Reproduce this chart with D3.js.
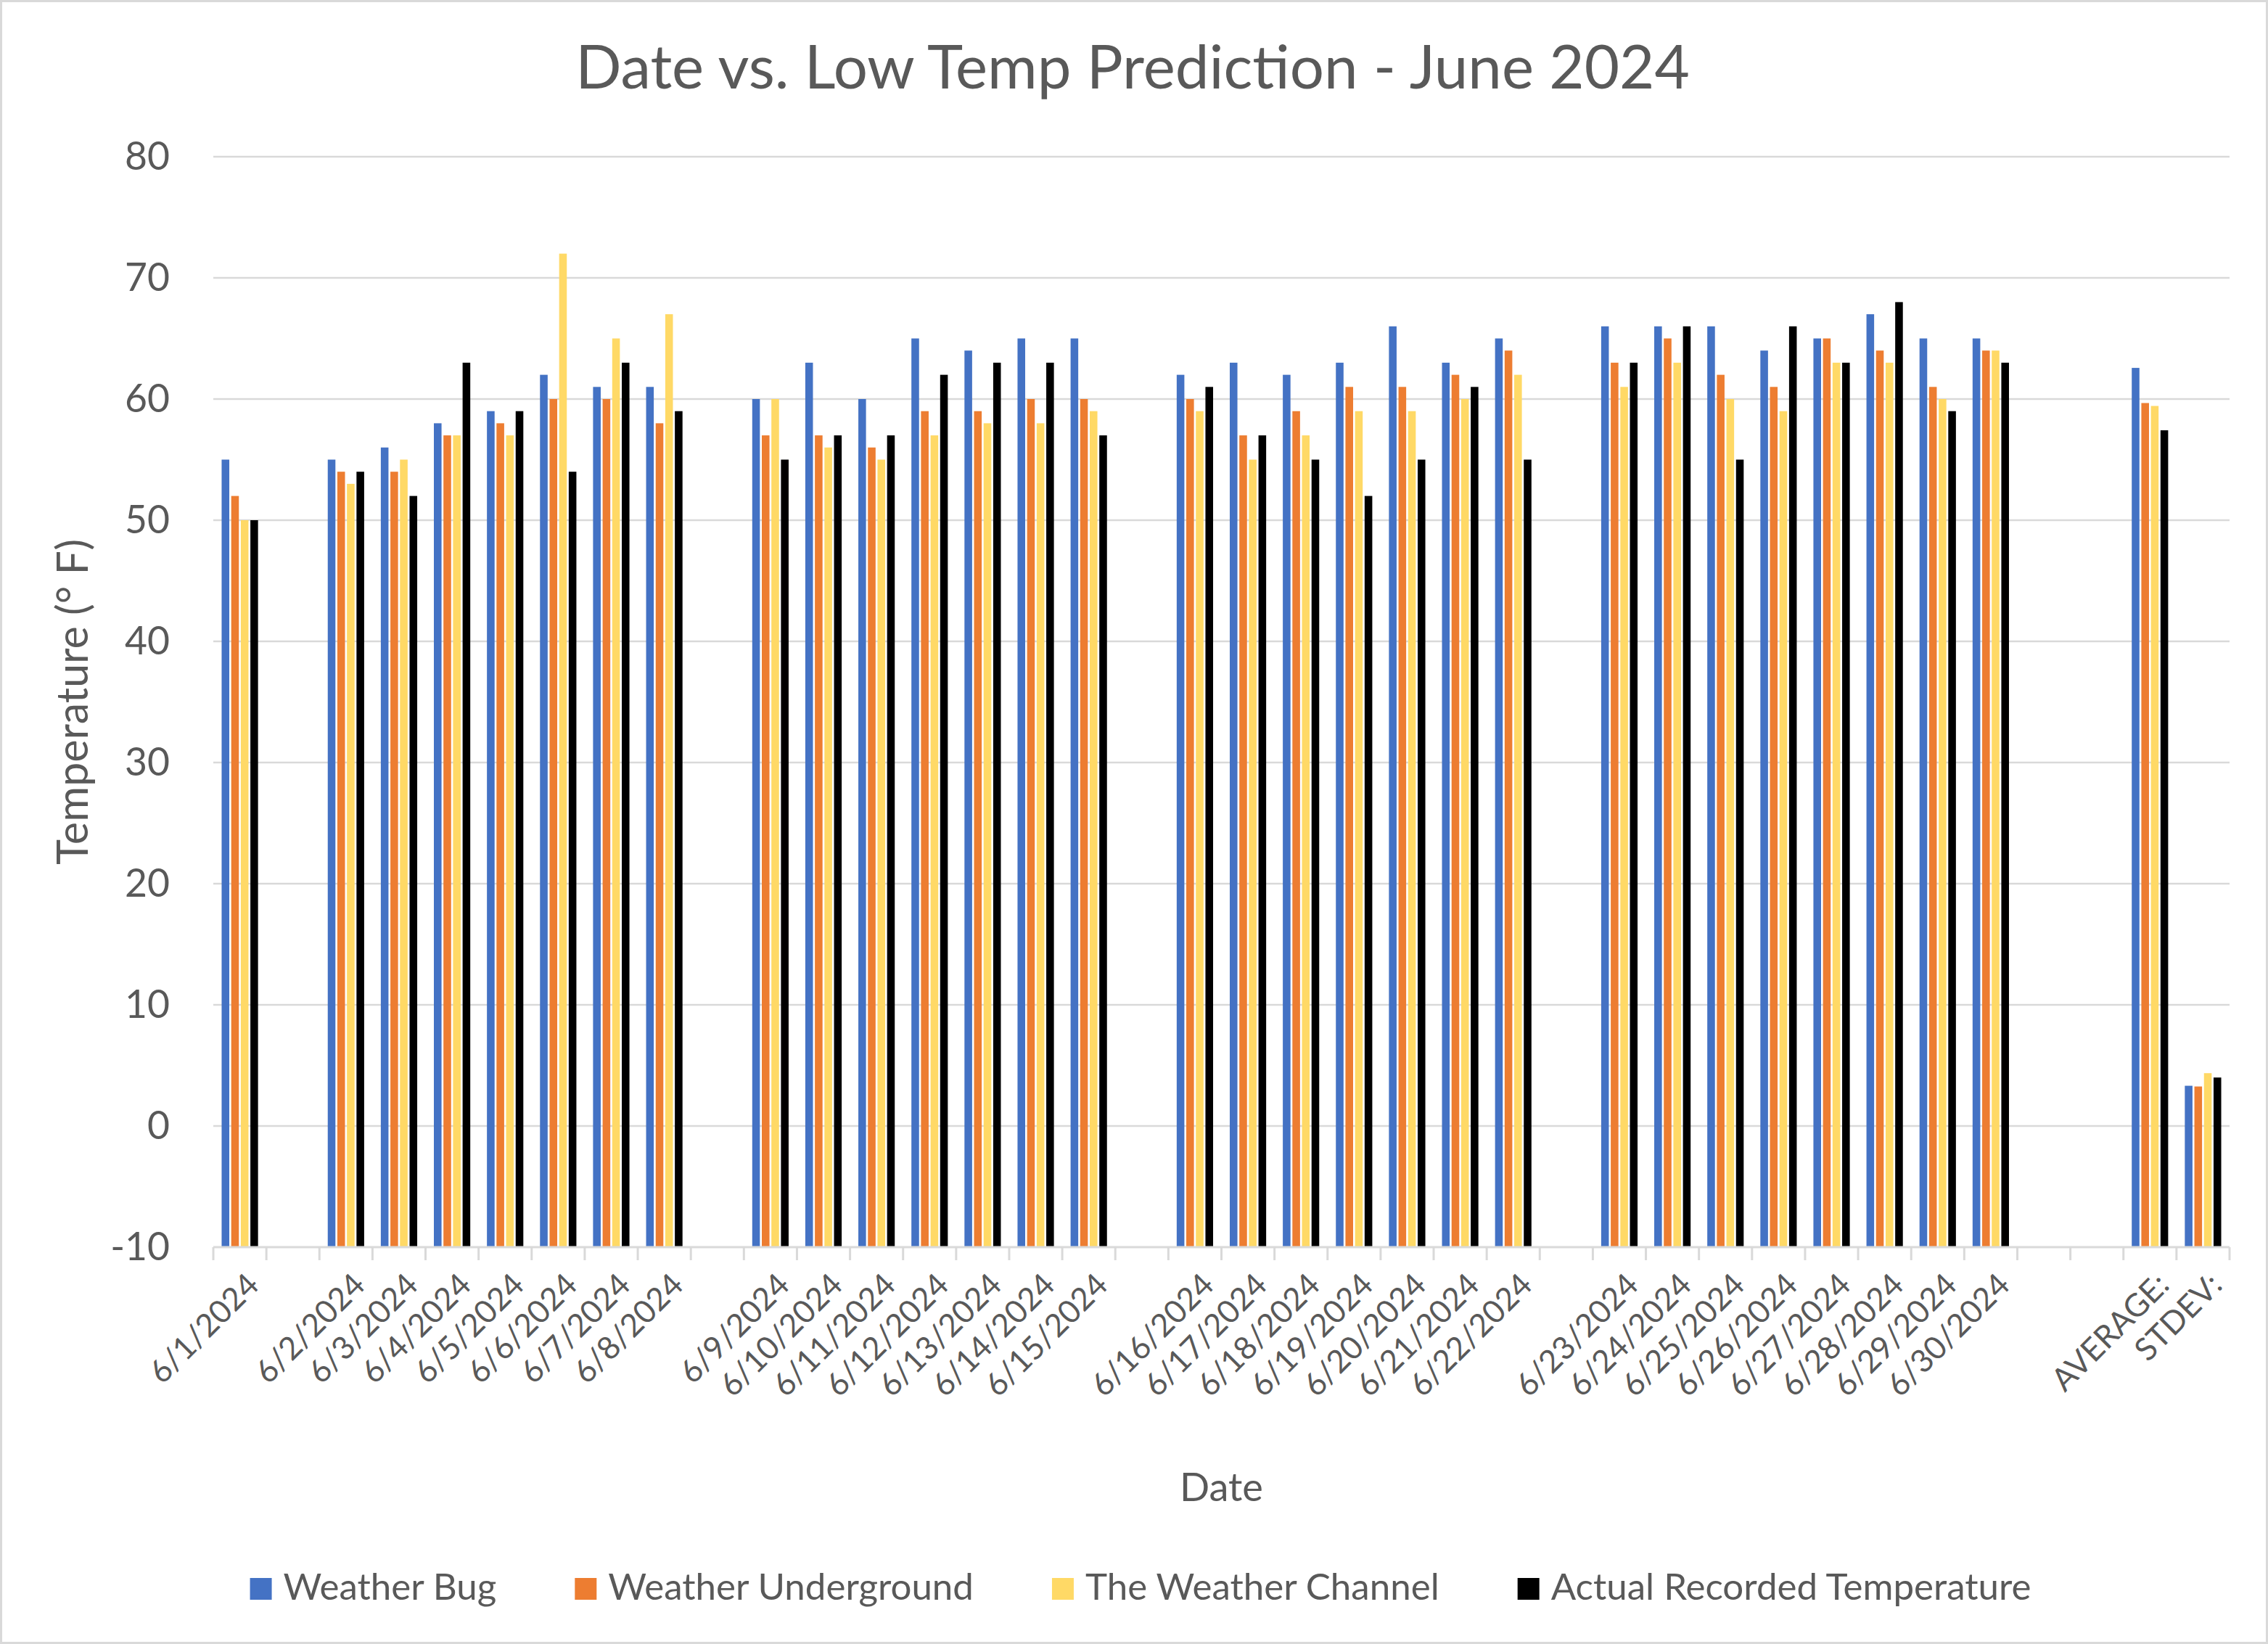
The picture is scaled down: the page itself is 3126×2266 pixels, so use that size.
<!DOCTYPE html>
<html>
<head>
<meta charset="utf-8">
<script src="https://cdn.jsdelivr.net/npm/d3@7/dist/d3.min.js"></script>
<style>
  html, body { margin: 0; padding: 0; background: #fff; }
  svg { display: block; }
</style>
</head>
<body>
<script>
// ---------------- DATA ----------------
const categories = [
  "6/1/2024", "",
  "6/2/2024", "6/3/2024", "6/4/2024", "6/5/2024", "6/6/2024", "6/7/2024", "6/8/2024", "",
  "6/9/2024", "6/10/2024", "6/11/2024", "6/12/2024", "6/13/2024", "6/14/2024", "6/15/2024", "",
  "6/16/2024", "6/17/2024", "6/18/2024", "6/19/2024", "6/20/2024", "6/21/2024", "6/22/2024", "",
  "6/23/2024", "6/24/2024", "6/25/2024", "6/26/2024", "6/27/2024", "6/28/2024", "6/29/2024", "6/30/2024", "", "",
  "AVERAGE:", "STDEV:"
];
const weatherBug = [55, null, 55, 56, 58, 59, 62, 61, 61, null, 60, 63, 60, 65, 64, 65, 65, null,
  62, 63, 62, 63, 66, 63, 65, null, 66, 66, 66, 64, 65, 67, 65, 65, null, null, 62.57, 3.32];
const weatherUnderground = [52, null, 54, 54, 57, 58, 60, 60, 58, null, 57, 57, 56, 59, 59, 60, 60, null,
  60, 57, 59, 61, 61, 62, 64, null, 63, 65, 62, 61, 65, 64, 61, 64, null, null, 59.67, 3.26];
const weatherChannel = [50, null, 53, 55, 57, 57, 72, 65, 67, null, 60, 56, 55, 57, 58, 58, 59, null,
  59, 55, 57, 59, 59, 60, 62, null, 61, 63, 60, 59, 63, 63, 60, 64, null, null, 59.43, 4.36];
const actualRecorded = [50, null, 54, 52, 63, 59, 54, 63, 59, null, 55, 57, 57, 62, 63, 63, 57, null,
  61, 57, 55, 52, 55, 61, 55, null, 63, 66, 55, 66, 63, 68, 59, 63, null, null, 57.42, 4.0];
const seriesNames = ["Weather Bug", "Weather Underground", "The Weather Channel", "Actual Recorded Temperature"];
const yTicks = [-10, 0, 10, 20, 30, 40, 50, 60, 70, 80];
const titleText = "Date vs. Low Temp Prediction - June 2024";
const xTitle = "Date";
const yTitle = "Temperature (° F)";

// ---------------- STYLE / LAYOUT ----------------
const W = 3126, H = 2266;
const colors = ["#4472C4", "#ED7D31", "#FFD966", "#000000"];
const FONT = "Lato, 'Open Sans', sans-serif";
const TEXT = "#595959";
const GRID = "#D9D9D9";
const plot = { left: 294, right: 3073, top: 216, bottom: 1719 };

const seriesData = [weatherBug, weatherUnderground, weatherChannel, actualRecorded];

const svg = d3.select("body").append("svg")
  .attr("width", W).attr("height", H)
  .attr("viewBox", `0 0 ${W} ${H}`);

svg.append("rect").attr("x", 0).attr("y", 0).attr("width", W).attr("height", H).attr("fill", "#fff");
svg.append("rect").attr("x", 1.5).attr("y", 1.5).attr("width", W - 3).attr("height", H - 3)
  .attr("fill", "none").attr("stroke", GRID).attr("stroke-width", 3);

// text measuring helper -> font size that gives a target width
const meas = svg.append("g").attr("opacity", 0);
function textWidth(txt, size) {
  const t = meas.append("text").attr("font-family", FONT).attr("font-size", size).text(txt);
  const w = t.node().getComputedTextLength();
  t.remove();
  return w;
}
function fitSize(txt, target) { return 100 * target / textWidth(txt, 100); }

const titleSize = fitSize(titleText, 1536);
const yTickSize = fitSize("80", 62);
const xTickSize = fitSize("6/1/2024", 192);
const xTitleSize = fitSize(xTitle, 115);
const yTitleSize = fitSize(yTitle, 449);
const legendSize = 100 * 1947 / d3.sum(seriesNames, n => textWidth(n, 100));

// ---------------- SCALES ----------------
const idx = categories.map((d, i) => i);
const x0 = d3.scaleBand().domain(idx).range([plot.left, plot.right]).padding(0);
const bw = x0.bandwidth();
const x1 = d3.scaleBand().domain(d3.range(seriesNames.length))
  .range([bw * 0.157, bw * 0.843]).paddingInner(0.2).paddingOuter(0);
const y = d3.scaleLinear().domain([-10, 80]).range([plot.bottom, plot.top]);

// ---------------- GRIDLINES ----------------
svg.append("g").selectAll("line").data(yTicks.filter(d => d !== -10)).join("line")
  .attr("x1", plot.left).attr("x2", plot.right)
  .attr("y1", d => y(d)).attr("y2", d => y(d))
  .attr("stroke", GRID).attr("stroke-width", 2.6);

// ---------------- Y AXIS ----------------
const yAxis = svg.append("g").attr("transform", `translate(${plot.left},0)`)
  .call(d3.axisLeft(y).tickValues(yTicks).tickSize(0).tickPadding(60).tickFormat(d => String(d)));
yAxis.select(".domain").remove();
yAxis.selectAll("text").attr("font-family", FONT).attr("font-size", yTickSize).attr("fill", TEXT);

// ---------------- BARS ----------------
const groups = svg.append("g").selectAll("g").data(idx).join("g")
  .attr("transform", i => `translate(${x0(i)},0)`);
groups.selectAll("rect")
  .data(i => seriesData.map((s, k) => ({ k, v: s[i] })).filter(d => d.v !== null))
  .join("rect")
  .attr("x", d => x1(d.k))
  .attr("width", x1.bandwidth())
  .attr("y", d => y(d.v))
  .attr("height", d => y(-10) - y(d.v))
  .attr("fill", d => colors[d.k]);

// ---------------- X AXIS ----------------
const xAxis = svg.append("g").attr("transform", `translate(0,${plot.bottom})`)
  .call(d3.axisBottom(x0).tickSize(0).tickFormat(i => categories[i]));
xAxis.select(".domain").remove();
xAxis.selectAll("text")
  .attr("font-family", FONT).attr("font-size", xTickSize).attr("fill", TEXT)
  .attr("text-anchor", "end")
  .attr("x", 0).attr("y", 0).attr("dy", "0.35em")
  .attr("transform", "translate(18,44) rotate(-45)");
svg.append("line")
  .attr("x1", plot.left).attr("x2", plot.right)
  .attr("y1", plot.bottom).attr("y2", plot.bottom)
  .attr("stroke", GRID).attr("stroke-width", 3);
const bounds = idx.map(i => x0(i)).concat([plot.right]);
svg.append("g").selectAll("line").data(bounds).join("line")
  .attr("x1", d => d).attr("x2", d => d)
  .attr("y1", plot.bottom).attr("y2", plot.bottom + 18)
  .attr("stroke", GRID).attr("stroke-width", 3);

// ---------------- TITLES ----------------
svg.append("text").attr("x", 1561).attr("y", 122)
  .attr("text-anchor", "middle").attr("font-family", FONT).attr("font-size", titleSize)
  .attr("fill", TEXT).text(titleText);
svg.append("text").attr("x", (plot.left + plot.right) / 2).attr("y", 2069)
  .attr("text-anchor", "middle").attr("font-family", FONT).attr("font-size", xTitleSize)
  .attr("fill", TEXT).text(xTitle);
svg.append("text")
  .attr("transform", `translate(100,${(plot.top + plot.bottom) / 2}) rotate(-90)`)
  .attr("text-anchor", "middle").attr("dy", "0.35em")
  .attr("font-family", FONT).attr("font-size", yTitleSize)
  .attr("fill", TEXT).text(yTitle);

// ---------------- LEGEND ----------------
const sq = 30, sqGap = 16, itemGap = 108;
const widths = seriesNames.map(n => textWidth(n, legendSize));
const total = d3.sum(widths) + seriesNames.length * (sq + sqGap) + (seriesNames.length - 1) * itemGap;
let lx = 1572 - total / 2;
const legend = svg.append("g");
seriesNames.forEach((n, k) => {
  legend.append("rect").attr("x", lx).attr("y", 2175).attr("width", sq).attr("height", sq).attr("fill", colors[k]);
  legend.append("text").attr("x", lx + sq + sqGap).attr("y", 2205)
    .attr("font-family", FONT).attr("font-size", legendSize).attr("fill", TEXT).text(n);
  lx += sq + sqGap + widths[k] + itemGap;
});
</script>
</body>
</html>
